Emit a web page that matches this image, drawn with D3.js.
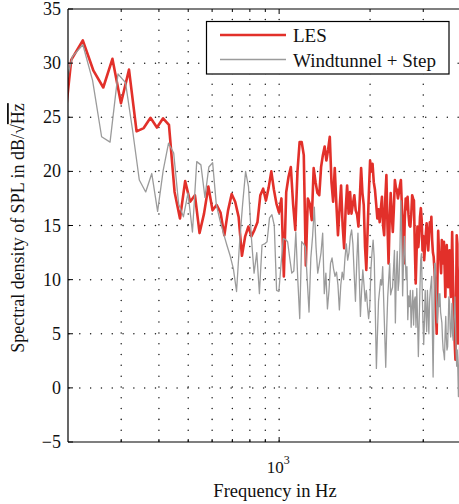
<!DOCTYPE html>
<html><head><meta charset="utf-8">
<script src="https://cdn.jsdelivr.net/npm/d3@7"></script>
<style>
html,body{margin:0;padding:0;background:#fff;overflow:hidden}
svg{display:block;font-family:"Liberation Serif","Times New Roman",serif}
</style></head><body>
<svg id="chart" width="459" height="504"></svg>
<script>
// FFT bin grids (Hz) of the two spectra
const lesStartHz = 186.1, lesStepHz = 18.9;
const tunnelStartHz = 189.6, tunnelStepHz = 17.2;

// LES spectrum, dB/sqrt(Hz), one value per bin
const lesValues = [
 19.1, 30.3, 32.1, 29.3, 27.75, 30.4, 26.3, 29.4, 23.7, 24.0,
 24.95, 24.05, 24.9, 24.3, 18.1, 15.65, 19.1, 17.2, 17.8, 14.3,
 16.1, 18.6, 16.4, 16.9, 16.2, 14.1, 16.4, 17.9, 17.2, 15.8,
 12.2, 14.0, 14.9, 14.0, 14.6, 15.3, 17.8, 18.4, 17.3, 18.5,
 20.0, 18.3, 17.0, 16.2, 17.5, 10.3, 18.1, 19.5, 20.4, 17.0,
 14.6, 20.0, 22.7, 22.7, 21.5, 11.3, 17.5, 17.0, 15.5, 20.3,
 19.0, 18.0, 17.8, 20.4, 21.5, 22.3, 21.0, 22.0, 23.2, 19.0,
 17.2, 20.3, 17.0, 14.1, 16.5, 18.7, 15.0, 12.9, 16.5, 18.7,
 16.1, 18.1, 16.1, 17.0, 17.8, 16.4, 16.0, 14.9, 17.5, 20.3,
 18.0, 16.9, 13.0, 10.9, 14.5, 18.0, 21.0, 20.0, 20.7, 19.0,
 18.3, 17.0, 15.65, 16.5, 15.3, 16.5, 17.65, 15.0, 14.1, 17.5,
 19.65, 15.0, 11.5, 15.5, 18.0, 16.0, 14.4, 16.5, 19.2, 18.5,
 18.3, 17.5, 18.0, 18.7, 19.2, 16.9, 15.0, 11.5, 15.5, 17.5,
 16.5, 17.65, 16.0, 15.0, 14.9, 16.0, 17.8, 17.5, 17.3, 13.0,
 9.65, 12.5, 14.9, 13.0, 14.0, 15.8, 16.6, 15.5, 12.7, 14.0,
 11.8, 13.0, 14.2, 15.2, 14.0, 12.7, 14.0, 15.3, 14.5, 15.8,
 13.65, 12.5, 12.1, 11.0, 9.5, 7.0, 5.0, 10.0, 14.5, 12.6,
 12.0, 11.8, 10.6, 13.65, 12.5, 11.5, 13.5, 11.0, 8.4, 12.0,
 13.2, 11.2, 9.3, 11.0, 12.7, 10.0, 8.4, 10.5, 14.4, 11.0,
 8.0, 5.6, 4.0, 2.6, 8.0, 14.1, 13.3, 4.1, 9.0, 4.7,
 10.0, 12.0, 8.0
];

// Windtunnel + Step spectrum
const tunnelValues = [
 26.1, 30.6, 31.7, 28.4, 23.2, 22.7, 29.0, 28.2, 23.8, 19.2,
 18.1, 19.8, 16.3, 20.1, 22.6, 21.7, 17.0, 15.8, 18.0, 14.4,
 20.9, 20.6, 17.6, 20.4, 20.8, 16.9, 15.5, 14.3, 13.2, 12.2,
 11.0, 8.9, 13.5, 17.0, 20.0, 18.6, 14.0, 10.6, 12.5, 8.7,
 13.2, 13.3, 13.5, 15.7, 16.0, 15.0, 9.0, 8.9, 11.5, 13.8,
 13.7, 13.5, 12.0, 10.6, 10.8, 14.4, 10.0, 6.4, 13.5, 13.3,
 13.0, 10.0, 7.0, 12.0, 14.0, 16.7, 13.0, 10.6, 11.5, 12.5,
 14.3, 8.7, 10.6, 7.3, 9.0, 11.5, 12.0, 11.0, 10.3, 10.7,
 9.5, 7.2, 9.5, 10.7, 10.0, 12.0, 13.3, 11.8, 12.5, 14.0,
 14.6, 13.3, 10.5, 8.0, 11.5, 14.3, 10.5, 6.6, 9.0, 10.9,
 9.5, 8.0, 9.0, 7.5, 6.4, 7.5, 10.9, 12.5, 13.65, 12.0,
 7.0, 1.8, 5.0, 8.0, 9.0, 10.0, 9.5, 11.2, 8.0, 5.0,
 1.9, 5.5, 8.4, 10.0, 11.5, 8.6, 9.0, 9.3, 11.0, 12.7,
 6.0, 10.5, 12.6, 9.0, 10.0, 13.0, 17.3, 14.0, 8.5, 11.5,
 14.0, 12.0, 10.0, 11.2, 6.3, 8.5, 7.5, 9.0, 5.6, 7.5,
 9.0, 5.8, 8.1, 8.4, 5.6, 9.2, 6.3, 2.9, 6.0, 9.0,
 11.8, 12.4, 9.0, 6.0, 4.0, 6.3, 9.0, 7.0, 5.2, 9.0,
 7.0, 5.0, 8.0, 9.0, 9.65, 10.3, 5.0, 1.0, 6.0, 11.5,
 11.5, 10.3, 8.0, 6.0, 7.0, 8.7, 7.5, 8.7, 7.0, 6.5,
 6.0, 4.5, 3.5, 3.2, 2.6, 5.0, 6.6, 4.5, 3.5, 3.8,
 6.0, 8.4, 8.0, 5.5, 4.7, 6.0, 7.8, 5.0, 4.4, 6.0,
 6.9, 8.4, 6.0, 3.5, 2.0, 3.5, 1.65, -0.8, 2.0, 4.0,
 3.0, 2.0, 1.0
];

const seriesNames = ["LES", "Windtunnel + Step"];
const seriesColors = ["#e2302a", "#9b9b9b"];
const xDomain = [200, 4000];
const yDomain = [-5, 35];
const yTickValues = [-5, 0, 5, 10, 15, 20, 25, 30, 35];
const xMinorTicks = [300, 400, 500, 600, 700, 800, 900, 2000, 3000, 4000];
const xMajorTicks = [1000];
const xLabel = "Frequency in Hz";

const svg = d3.select("#chart");
const P = {left: 68, top: 9, right: 461, bottom: 442};

const x = d3.scaleLog().domain(xDomain).range([P.left, P.right]);
const y = d3.scaleLinear().domain(yDomain).range([P.bottom, P.top]);

const les = lesValues.map((v, i) => ({f: lesStartHz + i * lesStepHz, v}));
const tunnel = tunnelValues.map((v, i) => ({f: tunnelStartHz + i * tunnelStepHz, v}));

svg.append("defs").append("clipPath").attr("id", "clip")
  .append("rect").attr("x", P.left).attr("y", P.top)
  .attr("width", P.right - P.left).attr("height", P.bottom - P.top);

// dotted grid (round dots)
const grid = svg.append("g").attr("stroke", "#1a1a1a").attr("stroke-width", 1.5)
  .attr("stroke-linecap", "round")
  .attr("stroke-dasharray", "0.01,10.8").attr("fill", "none");
grid.selectAll("line.h").data(yTickValues.slice(1, -1)).join("line")
  .attr("x1", P.left + 1).attr("x2", P.right)
  .attr("y1", d => y(d)).attr("y2", d => y(d));
grid.selectAll("line.v").data(xMinorTicks.concat(xMajorTicks)).join("line")
  .attr("y1", P.bottom - 1).attr("y2", P.top)
  .attr("x1", d => x(d)).attr("x2", d => x(d));

// data lines
const line = d3.line().x(d => x(d.f)).y(d => y(d.v));
const plot = svg.append("g").attr("clip-path", "url(#clip)");
plot.append("path").datum(les).attr("d", line).attr("fill", "none")
  .attr("stroke", seriesColors[0]).attr("stroke-width", 2.6).attr("stroke-linejoin", "round");
plot.append("path").datum(tunnel).attr("d", line).attr("fill", "none")
  .attr("stroke", seriesColors[1]).attr("stroke-width", 1.3).attr("stroke-linejoin", "round");

// axes frame
const frame = svg.append("g").attr("stroke", "#000").attr("stroke-width", 1.2).attr("fill", "none");
frame.append("line").attr("x1", P.left).attr("x2", P.right).attr("y1", P.bottom).attr("y2", P.bottom);
frame.append("line").attr("x1", P.left).attr("x2", P.right).attr("y1", P.top).attr("y2", P.top);
frame.append("line").attr("x1", P.left).attr("x2", P.left).attr("y1", P.top).attr("y2", P.bottom);

// inward ticks
const tk = svg.append("g").attr("stroke", "#000").attr("stroke-width", 1);
const xt = xMinorTicks.map(d => ({d, len: 3})).concat(xMajorTicks.map(d => ({d, len: 5})));
tk.selectAll("line.xb").data(xt).join("line")
  .attr("x1", t => x(t.d)).attr("x2", t => x(t.d)).attr("y1", P.bottom).attr("y2", t => P.bottom - t.len);
tk.selectAll("line.xt").data(xt).join("line")
  .attr("x1", t => x(t.d)).attr("x2", t => x(t.d)).attr("y1", P.top).attr("y2", t => P.top + t.len);
tk.selectAll("line.yl").data(yTickValues).join("line")
  .attr("x1", P.left).attr("x2", P.left + 5).attr("y1", d => y(d)).attr("y2", d => y(d));

// y tick labels
svg.append("g").selectAll("text").data(yTickValues).join("text")
  .attr("x", 61).attr("y", d => y(d)).attr("dy", "0.34em")
  .attr("text-anchor", "end").attr("font-size", 18).attr("fill", "#111")
  .text(d => d < 0 ? "\u2212" + Math.abs(d) : d);

// x tick label 10^3
xMajorTicks.forEach(d => {
  const t = svg.append("text").attr("x", x(d) - 1).attr("y", 473)
    .attr("text-anchor", "middle").attr("font-size", 17).attr("fill", "#111");
  t.append("tspan").text("10");
  t.append("tspan").attr("dy", -9).attr("font-size", 12).text(Math.round(Math.log10(d)));
});

// axis labels
svg.append("text").attr("x", 275).attr("y", 497).attr("text-anchor", "middle")
  .attr("font-size", 18.5).attr("fill", "#111").text(xLabel);
const yl = svg.append("text").attr("transform", "translate(24,228) rotate(-90)")
  .attr("text-anchor", "middle").attr("font-size", 18).attr("fill", "#111");
yl.append("tspan").text("Spectral density of SPL in dB/\u221A");
yl.append("tspan").attr("text-decoration", "overline").style("text-decoration", "overline").text("Hz");

// legend
const lg = svg.append("g");
lg.append("rect").attr("x", 206.5).attr("y", 21.5).attr("width", 242.5).attr("height", 52.5)
  .attr("fill", "#fff").attr("stroke", "#000").attr("stroke-width", 1.2);
seriesNames.forEach((name, k) => {
  const yy = 35 + k * 24.5;
  lg.append("line").attr("x1", 220).attr("x2", 286).attr("y1", yy).attr("y2", yy)
    .attr("stroke", seriesColors[k]).attr("stroke-width", k === 0 ? 2.6 : 1.3);
  lg.append("text").attr("x", 293).attr("y", yy + 7).attr("font-size", 19)
    .attr("fill", "#111").text(name);
});
</script>
</body></html>
